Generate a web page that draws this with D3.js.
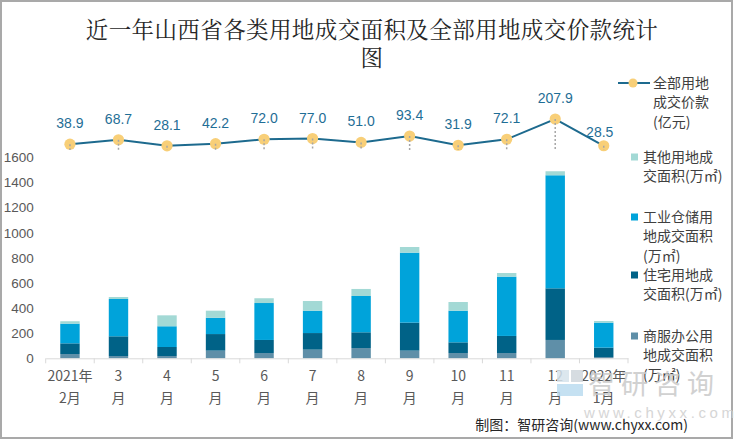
<!DOCTYPE html>
<html>
<head>
<meta charset="utf-8">
<script src="https://cdn.jsdelivr.net/npm/d3@7"></script>
<style>
  html, body { margin: 0; padding: 0; background: #fff; }
  svg { display: block; }
  text { font-family: "Noto Sans CJK SC", "Noto Sans", sans-serif; }
</style>
</head>
<body>
<svg id="chart" width="750" height="440"></svg>
<script>
// ---------------- data ----------------
const categories = ["2021年2月", "3月", "4月", "5月", "6月", "7月", "8月", "9月", "10月", "11月", "12月", "2022年1月"];
const commercial  = [34, 18, 18, 61, 42, 69, 82, 61, 42, 42, 146, 10];   // 商服办公用地成交面积(万㎡)
const residential = [85, 157, 72, 132, 104, 132, 125, 223, 85, 136, 411, 75]; // 住宅用地成交面积(万㎡)
const industrial  = [157, 297, 165, 130, 294, 178, 289, 557, 252, 472, 900, 199]; // 工业仓储用地成交面积(万㎡)
const other       = [19, 16, 87, 56, 38, 77, 56, 45, 69, 29, 32, 13];    // 其他用地成交面积(万㎡)
const totalPrice  = [38.9, 68.7, 28.1, 42.2, 72.0, 77.0, 51.0, 93.4, 31.9, 72.1, 207.9, 28.5]; // 全部用地成交价款(亿元)
const yTicks = [0, 200, 400, 600, 800, 1000, 1200, 1400, 1600];

const seriesKeys = ["commercial", "residential", "industrial", "other"];
const seriesNames = {
  other: ["其他用地成", "交面积(万㎡)"],
  industrial: ["工业仓储用", "地成交面积", "(万㎡)"],
  residential: ["住宅用地成", "交面积(万㎡)"],
  commercial: ["商服办公用", "地成交面积", "(万㎡)"]
};
const lineName = ["全部用地", "成交价款", "(亿元)"];
const colors = {
  other: "#a3d9d5",
  industrial: "#00a3da",
  residential: "#006287",
  commercial: "#5f8fa8"
};
const lineColor = "#1d6a8e";
const markerColor = "#f8cf78";

const rows = categories.map((c, i) => ({
  cat: c,
  commercial: commercial[i],
  residential: residential[i],
  industrial: industrial[i],
  other: other[i],
  price: totalPrice[i]
}));

// ---------------- layout ----------------
const svg = d3.select("#chart");
const plotLeft = 45.7, plotRight = 628, baseY = 358.3, topY = 157.3;

// border
svg.append("rect").attr("x", 1).attr("y", 1).attr("width", 731).attr("height", 437)
  .attr("fill", "#fff").attr("stroke", "#a9a9a9").attr("stroke-width", 2);

// title
const title = svg.append("text").attr("text-anchor", "middle").attr("fill", "#262626")
  .style("font-family", "'Noto Serif CJK SC','Noto Sans CJK SC',serif")
  .style("font-size", "22.5px").style("letter-spacing", "0.4px");
title.append("tspan").attr("x", 372).attr("y", 38).text("近一年山西省各类用地成交面积及全部用地成交价款统计");
title.append("tspan").attr("x", 372).attr("y", 66).text("图");

// scales
const x = d3.scaleBand().domain(categories).range([plotLeft, plotRight]).paddingInner(0).paddingOuter(0);
const barW = x.step() * 0.4;
const y = d3.scaleLinear().domain([0, 1600]).range([baseY, topY]);
const yLine = d3.scaleLinear().domain([0, 200]).range([150, 120.2]);

// y axis
const yAxis = svg.append("g").attr("transform", `translate(${plotLeft},0)`)
  .call(d3.axisLeft(y).tickValues(yTicks).tickSize(0).tickPadding(12).tickFormat(d3.format("d")));
yAxis.select(".domain").remove();
yAxis.selectAll("text").attr("fill", "#595959").style("font-size", "13.5px")
  .style("font-family", "'Liberation Sans','Noto Sans',sans-serif");

// bars
const stacked = d3.stack().keys(seriesKeys)(rows);
svg.append("g").selectAll("g").data(stacked).join("g")
  .attr("fill", d => colors[d.key])
  .selectAll("rect").data(d => d).join("rect")
  .attr("x", d => x(d.data.cat) + (x.step() - barW) / 2)
  .attr("width", barW)
  .attr("y", d => y(d[1]))
  .attr("height", d => y(d[0]) - y(d[1]));

// x axis
const xAxis = svg.append("g").attr("transform", `translate(0,${baseY})`)
  .call(d3.axisBottom(x).tickSize(0).tickFormat(""));
xAxis.select(".domain").attr("stroke", "#d9d9d9").attr("stroke-width", 1);
const boundaries = d3.range(categories.length + 1).map(i => plotLeft + i * x.step());
svg.append("g").selectAll("line").data(boundaries).join("line")
  .attr("x1", d => d).attr("x2", d => d).attr("y1", baseY).attr("y2", baseY + 5)
  .attr("stroke", "#d9d9d9").attr("stroke-width", 1);

function splitCat(c) {
  if (c.includes("年")) { const k = c.indexOf("年") + 1; return [c.slice(0, k), c.slice(k)]; }
  return [c.replace("月", ""), "月"];
}
const xl = svg.append("g").selectAll("text").data(categories).join("text")
  .attr("text-anchor", "middle").attr("fill", "#595959").style("font-size", "14px");
xl.each(function (c) {
  const parts = splitCat(c);
  const cx = x(c) + x.step() / 2;
  const t = d3.select(this);
  t.append("tspan").attr("x", cx).attr("y", 381).text(parts[0]);
  t.append("tspan").attr("x", cx).attr("y", 403).text(parts[1]);
});

// line series
const cxOf = d => x(d.cat) + x.step() / 2;
svg.append("path").datum(rows)
  .attr("fill", "none").attr("stroke", lineColor).attr("stroke-width", 2)
  .attr("d", d3.line().x(cxOf).y(d => yLine(d.price)));
svg.append("g").selectAll("circle").data(rows).join("circle")
  .attr("cx", cxOf).attr("cy", d => yLine(d.price)).attr("r", 5.6).attr("fill", markerColor);
// drop lines
svg.append("g").selectAll("line").data(rows).join("line")
  .attr("x1", cxOf).attr("x2", cxOf)
  .attr("y1", d => yLine(d.price)).attr("y2", yLine(0))
  .attr("stroke", "#a6a6a6").attr("stroke-width", 1.5).attr("stroke-dasharray", "2,2");
// labels
svg.append("g").selectAll("text").data(rows).join("text")
  .attr("x", (d, i) => cxOf(d) - (i === rows.length - 1 ? 4 : 0))
  .attr("y", (d, i) => yLine(d.price) - (i === rows.length - 1 ? 9 : 16))
  .attr("text-anchor", "middle").attr("fill", "#1f6e96")
  .style("font-size", "14px").style("font-family", "'Liberation Sans','Noto Sans',sans-serif")
  .text(d => d3.format(".1f")(d.price));

// legend
const leg = svg.append("g");
leg.append("line").attr("x1", 618).attr("x2", 650).attr("y1", 83).attr("y2", 83)
  .attr("stroke", lineColor).attr("stroke-width", 2);
leg.append("circle").attr("cx", 633).attr("cy", 83).attr("r", 4.5).attr("fill", markerColor);
lineName.forEach((s, i) => {
  leg.append("text").attr("x", 653).attr("y", 87.5 + i * 19.5).attr("fill", "#404040")
    .style("font-size", "14px").text(s);
});
const legendItems = [
  { key: "other", y: 157 },
  { key: "industrial", y: 217 },
  { key: "residential", y: 275 },
  { key: "commercial", y: 336 }
];
legendItems.forEach(it => {
  leg.append("rect").attr("x", 631).attr("y", it.y - 3.5).attr("width", 7).attr("height", 7)
    .attr("fill", colors[it.key]);
  seriesNames[it.key].forEach((s, i) => {
    leg.append("text").attr("x", 643).attr("y", it.y + 4.5 + i * 19.5).attr("fill", "#404040")
      .style("font-size", "14px").text(s);
  });
});

// watermark (semi-transparent overlay, as in the reference)
const wm = svg.append("g").attr("opacity", 0.85);
wm.append("rect").attr("x", 557).attr("y", 370).attr("width", 12).attr("height", 12).attr("fill", "#d6e3ec");
wm.append("rect").attr("x", 571).attr("y", 370).attr("width", 12).attr("height", 12).attr("fill", "#cfd6dc");
wm.append("rect").attr("x", 557).attr("y", 384).attr("width", 26).attr("height", 12).attr("fill", "#bcdcf0");
wm.append("text").attr("x", 588).attr("y", 394).attr("fill", "#c9c9c9")
  .style("font-size", "27px").style("letter-spacing", "6px").text("智研咨询");
wm.append("text").attr("x", 584).attr("y", 418).attr("fill", "#cfcfcf")
  .attr("textLength", 150).attr("lengthAdjust", "spacing")
  .style("font-size", "15px").style("font-family", "'Liberation Sans',sans-serif").text("www.chyxx.com");

// source
svg.append("text").attr("x", 688).attr("y", 430).attr("text-anchor", "end").attr("fill", "#262626")
  .style("font-size", "14px").text("制图：智研咨询(www.chyxx.com)");
</script>
</body>
</html>
